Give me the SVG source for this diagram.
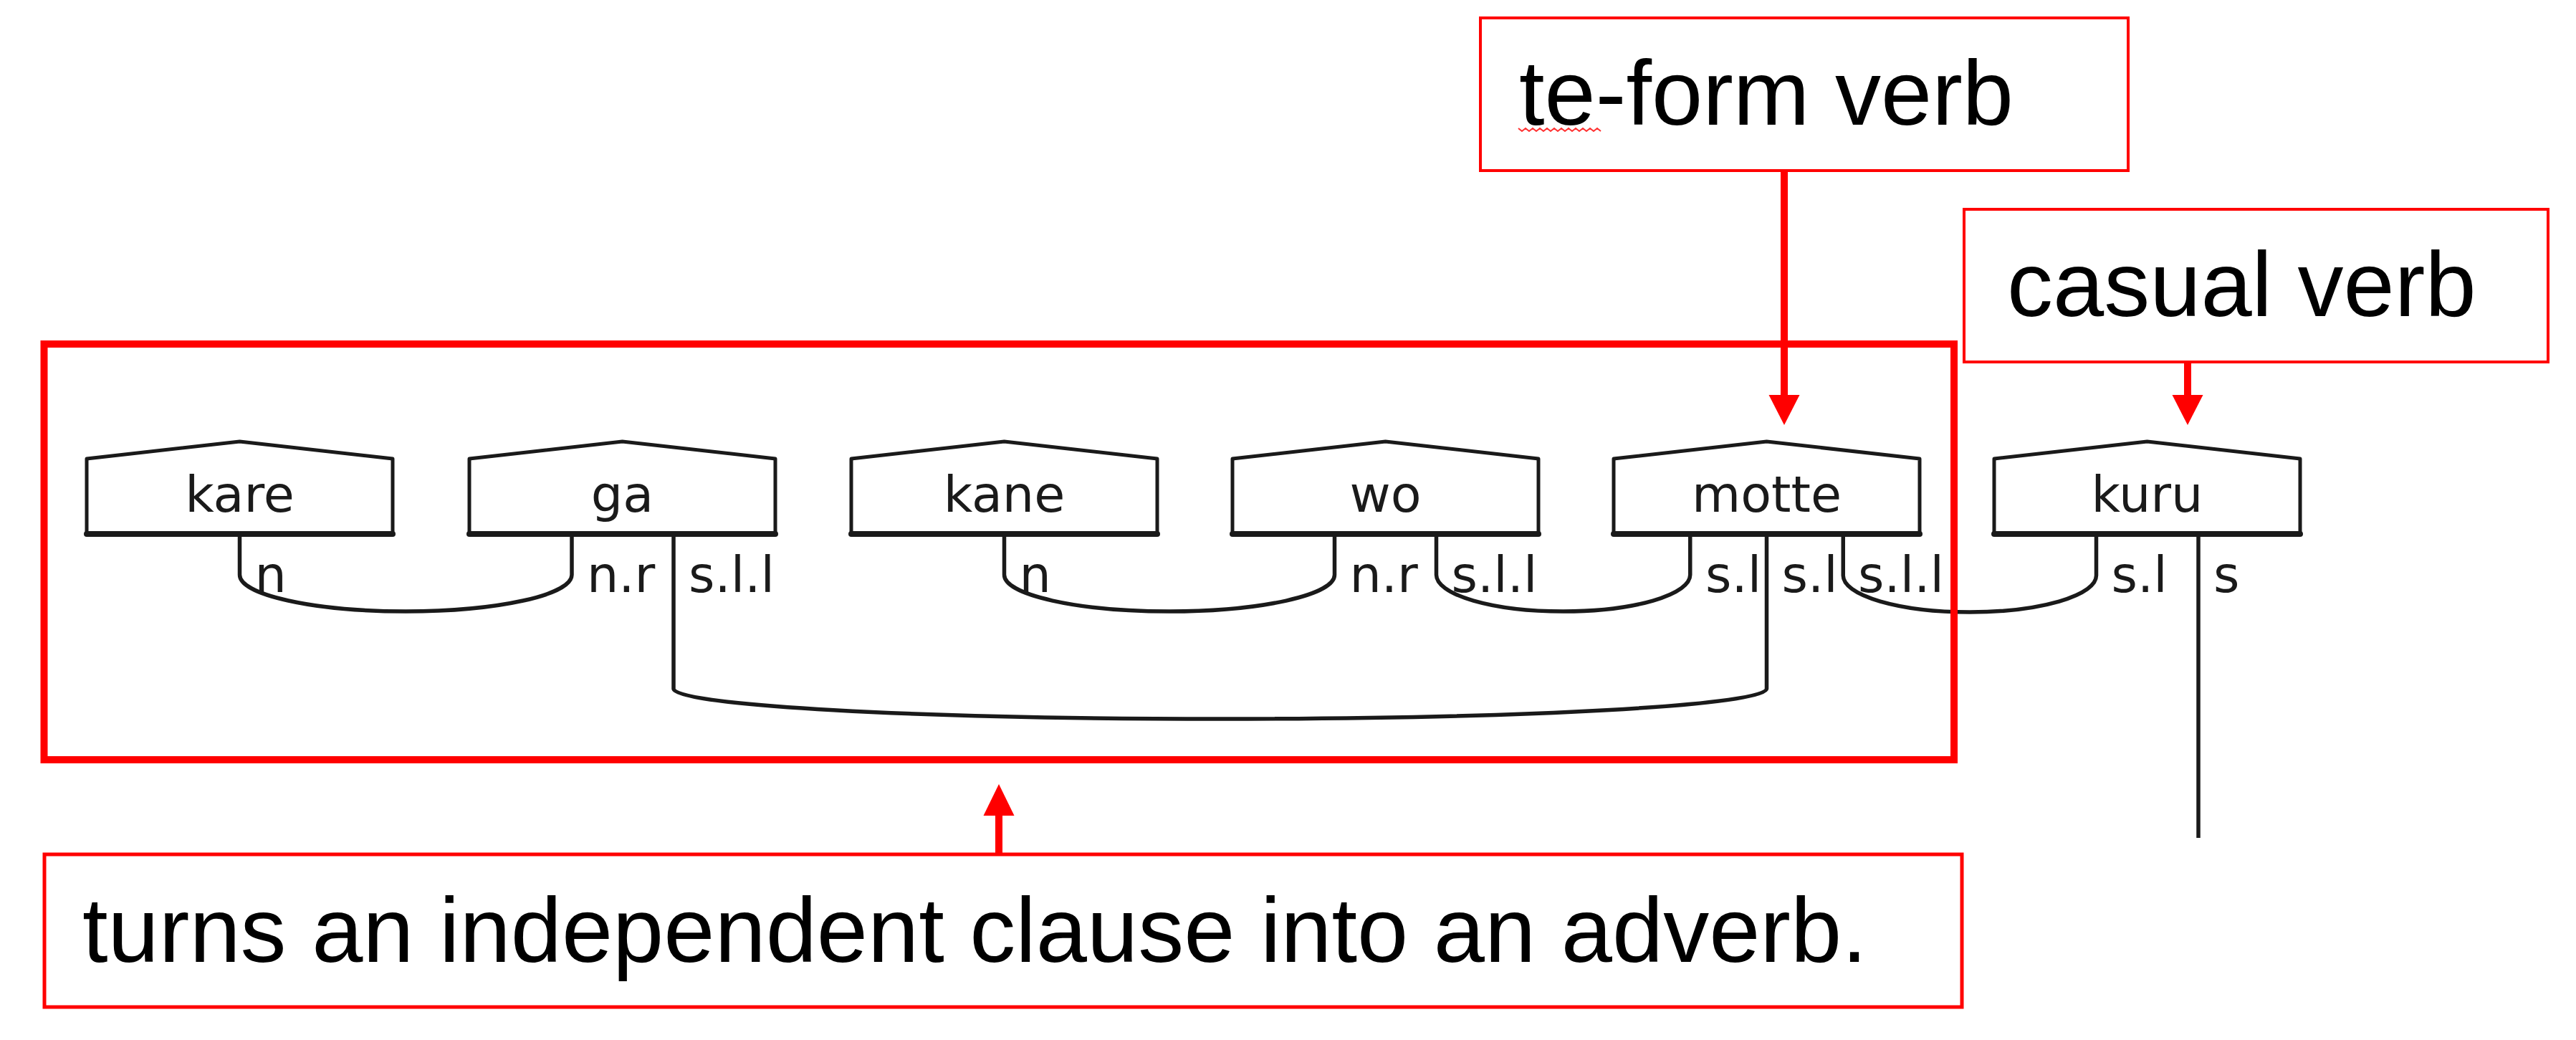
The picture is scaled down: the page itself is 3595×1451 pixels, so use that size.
<svg xmlns="http://www.w3.org/2000/svg" width="3595" height="1451" viewBox="0 0 3595 1451">
<style>
.bg{fill:#ffffff}
.nshape{fill:#ffffff;stroke:#1a1a1a;stroke-width:5;stroke-linejoin:round}
.nbase{stroke:#1a1a1a;stroke-width:8;stroke-linecap:round}
.ntext{font-family:"DejaVu Sans",sans-serif;font-size:70px;fill:#1a1a1a;text-anchor:middle}
.lbl{font-family:"DejaVu Sans",sans-serif;font-size:70px;fill:#1a1a1a}
.link{fill:none;stroke:#1a1a1a;stroke-width:5.5}
.rbox{fill:#ffffff;stroke:#ff0000;stroke-width:4}
.frame{fill:none;stroke:#ff0000;stroke-width:10}
.rline{stroke:#ff0000;stroke-width:10}
.rhead{fill:#ff0000}
.note{font-family:"Liberation Sans",Arial,sans-serif;font-size:128px;fill:#000000}
</style>
<rect class="bg" x="0" y="0" width="3595" height="1451"/>

<g id="connectors">
  <path class="link" d="M334.5,745 V802 A231.75,51 0 0 0 798,802 V745"/>
  <path class="link" d="M1401.5,745 V802 A230.5,51 0 0 0 1862.5,802 V745"/>
  <path class="link" d="M2004.5,745 V802 A177.1,51 0 0 0 2358.75,802 V745"/>
  <path class="link" d="M2572.25,745 V803 A176.6,51 0 0 0 2925.5,803 V745"/>
  <path class="link" d="M940,745 V961 A762.75,42 0 0 0 2465.5,961 V745"/>
  <path class="link" d="M3068,745 V1169"/>
</g>

<g id="node-kare">
  <path class="nshape" d="M121,640 L334.5,616 L548,640 L548,745 L121,745 Z"/>
  <line class="nbase" x1="121" y1="745" x2="548" y2="745"/>
  <text class="ntext" x="334.5" y="714">kare</text>
  <text class="lbl" x="355.5" y="826">n</text>
</g>
<g id="node-ga">
  <path class="nshape" d="M655,640 L868.5,616 L1082,640 L1082,745 L655,745 Z"/>
  <line class="nbase" x1="655" y1="745" x2="1082" y2="745"/>
  <text class="ntext" x="868.5" y="714">ga</text>
  <text class="lbl" x="819" y="826">n.r</text>
  <text class="lbl" x="961" y="826">s.l.l</text>
</g>
<g id="node-kane">
  <path class="nshape" d="M1188,640 L1401.5,616 L1615,640 L1615,745 L1188,745 Z"/>
  <line class="nbase" x1="1188" y1="745" x2="1615" y2="745"/>
  <text class="ntext" x="1401.5" y="714">kane</text>
  <text class="lbl" x="1422.5" y="826">n</text>
</g>
<g id="node-wo">
  <path class="nshape" d="M1720,640 L1933.5,616 L2147,640 L2147,745 L1720,745 Z"/>
  <line class="nbase" x1="1720" y1="745" x2="2147" y2="745"/>
  <text class="ntext" x="1933.5" y="714">wo</text>
  <text class="lbl" x="1883.5" y="826">n.r</text>
  <text class="lbl" x="2025.5" y="826">s.l.l</text>
</g>
<g id="node-motte">
  <path class="nshape" d="M2252,640 L2465.5,616 L2679,640 L2679,745 L2252,745 Z"/>
  <line class="nbase" x1="2252" y1="745" x2="2679" y2="745"/>
  <text class="ntext" x="2465.5" y="714">motte</text>
  <text class="lbl" x="2380" y="826">s.l</text>
  <text class="lbl" x="2486.5" y="826">s.l</text>
  <text class="lbl" x="2593" y="826">s.l.l</text>
</g>
<g id="node-kuru">
  <path class="nshape" d="M2783,640 L2996.5,616 L3210,640 L3210,745 L2783,745 Z"/>
  <line class="nbase" x1="2783" y1="745" x2="3210" y2="745"/>
  <text class="ntext" x="2996.5" y="714">kuru</text>
  <text class="lbl" x="2946.5" y="826">s.l</text>
  <text class="lbl" x="3089" y="826">s</text>
</g>

<g id="clause-frame">
  <rect class="frame" x="61.5" y="480" width="2665.5" height="580"/>
</g>

<g id="note-teform">
  <rect class="rbox" x="2066" y="25" width="904" height="213"/>
  <text class="note" x="2120" y="174">te-form verb</text>
  <path d="M2119,179 l5,4 l5,-4 l5,4 l5,-4 l5,4 l5,-4 l5,4 l5,-4 l5,4 l5,-4 l5,4 l5,-4 l5,4 l5,-4 l5,4 l5,-4 l5,4 l5,-4 l5,4 l5,-4 l5,4 l5,-4 l5,4" fill="none" stroke="#ff3030" stroke-width="2"/>
</g>
<g id="note-casual">
  <rect class="rbox" x="2741" y="292" width="815" height="213"/>
  <text class="note" x="2801" y="441">casual verb</text>
</g>
<g id="note-adverb">
  <rect class="rbox" x="62" y="1192" width="2676" height="213" style="stroke-width:5"/>
  <text class="note" x="115" y="1342">turns an independent clause into an adverb.</text>
</g>

<g id="arrows">
  <line class="rline" x1="2490" y1="238" x2="2490" y2="553"/>
  <polygon class="rhead" points="2468.5,551 2511.5,551 2490,593"/>
  <line class="rline" x1="3053" y1="505" x2="3053" y2="553"/>
  <polygon class="rhead" points="3031.5,551 3074.5,551 3053,593"/>
  <line class="rline" x1="1394" y1="1192" x2="1394" y2="1136"/>
  <polygon class="rhead" points="1372.5,1138 1415.5,1138 1394,1094"/>
</g>
</svg>
